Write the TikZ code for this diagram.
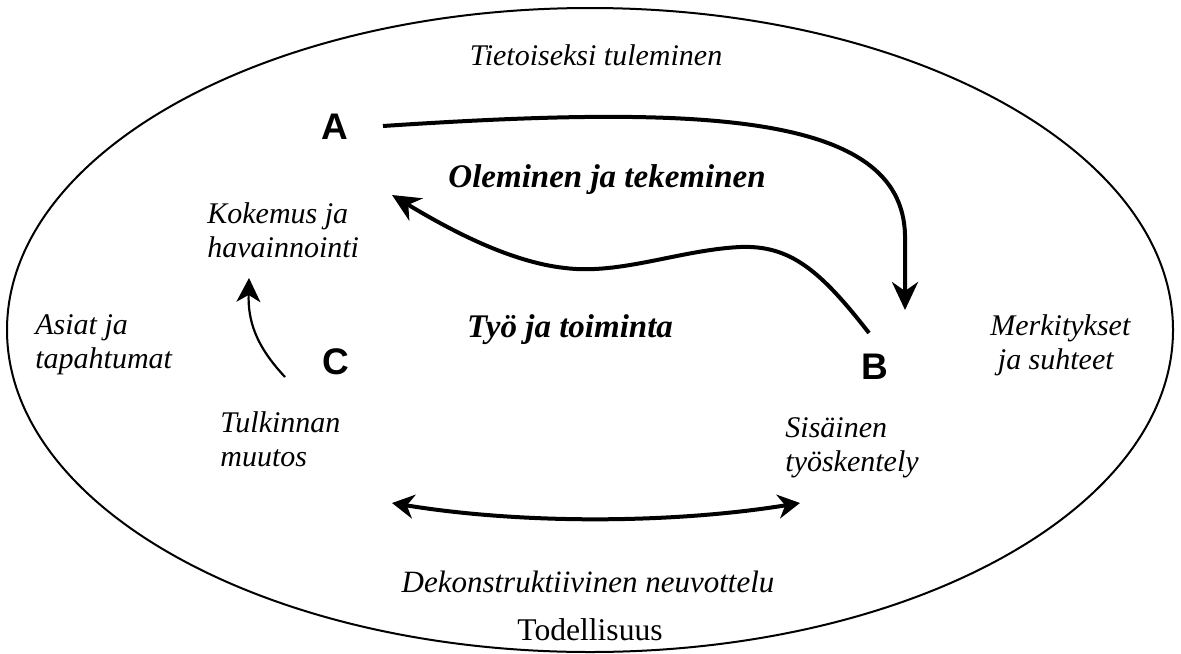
\documentclass[tikz,border=0pt]{standalone}
\usepackage{fontspec}
\setmainfont{Liberation Serif}
\newfontfamily\labsans{Liberation Sans}
\usetikzlibrary{arrows.meta}
\tikzset{
  lab/.style={font=\fontsize{15}{17}\selectfont\itshape, inner sep=0pt, align=left},
  bigital/.style={font=\fontsize{16.5}{19}\selectfont\bfseries\itshape, inner sep=0pt},
  letter/.style={font=\fontsize{18.5}{20}\selectfont\labsans\bfseries, inner sep=0pt},
  bigarrow/.style={line width=2pt, -{Stealth[length=14pt,width=13pt,inset=4.5pt]}},
  dblarrow/.style={line width=2pt, {Stealth[length=11pt,width=12pt,inset=3.5pt]}-{Stealth[length=11pt,width=12pt,inset=3.5pt]}},
  thinarrow/.style={line width=1.1pt, -{Stealth[length=12pt,width=12pt,inset=3.5pt]}}
}
\begin{document}
\begin{tikzpicture}[x=0.5pt,y=-0.5pt]
\useasboundingbox (0,0) rectangle (1181,653);
\draw[line width=1pt] (590,330) ellipse [x radius=583, y radius=322];

\node[lab] (tt) at (596,55) {Tietoiseksi tuleminen};
\node[letter] (A) at (335,127) {A};
\node[letter] (B) at (875,367) {B};
\node[letter] (C) at (336,362) {C};
\node[bigital] (ol) at (607,180) {Oleminen ja tekeminen};
\node[bigital] (ty) at (570,330) {Työ ja toiminta};
\node[lab, anchor=west] (ko) at (207,230) {Kokemus ja\\havainnointi};
\node[lab, anchor=west] (as) at (35,345) {Asiat ja\\tapahtumat};
\node[lab, anchor=west] (me) at (990,345) {Merkitykset\\\ ja suhteet};
\node[lab, anchor=west] (tu) at (220,439) {Tulkinnan\\muutos};
\node[lab, anchor=west] (si) at (785,448) {Sisäinen\\työskentely};
\node[lab, font=\fontsize{15.5}{17}\selectfont\itshape] (de) at (588,582) {Dekonstruktiivinen neuvottelu};
\node[font=\fontsize{15.8}{18}\selectfont, fill=white, inner sep=1pt] (to) at (590,630) {Todellisuus};

\coordinate (a1) at (383,126);
\coordinate (b1) at (905,310);
\coordinate (b2) at (869,333);
\coordinate (a2) at (392,195);
\coordinate (c1) at (285,377);
\coordinate (k1) at (249,278);
\coordinate (d1) at (392,503);
\coordinate (d2) at (800,503);

\draw[bigarrow] (a1) .. controls (700,105) and (902,112) .. (905,235) -- (b1);
\draw[bigarrow] (b2) .. controls (820,270) and (790,245) .. (740,247)
   .. controls (680,250) and (620,275) .. (565,268)
   .. controls (510,262) and (450,230) .. (a2);
\draw[thinarrow] (c1) .. controls (255,345) and (248,320) .. (k1);
\draw[dblarrow] (d1) .. controls (520,524) and (670,524) .. (d2);
\end{tikzpicture}
\end{document}
